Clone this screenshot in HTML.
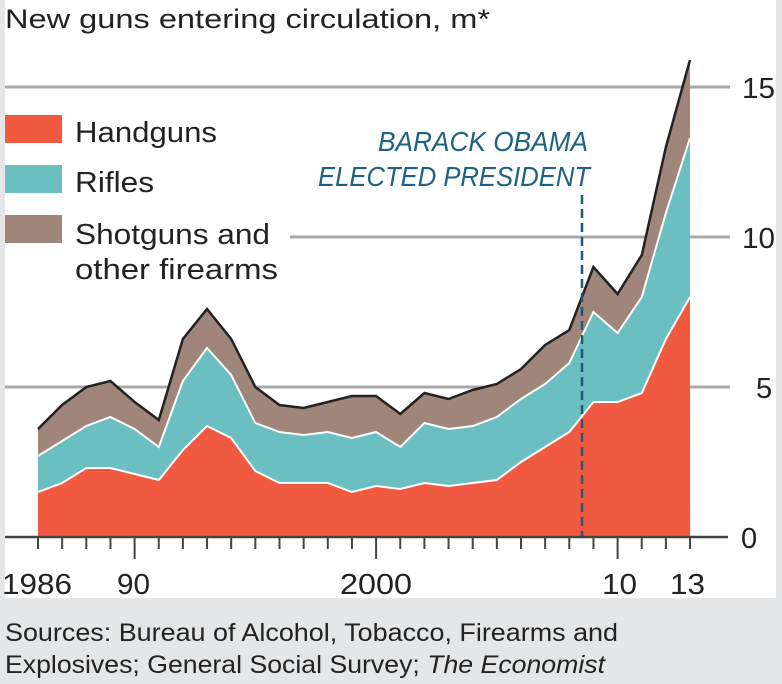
<!DOCTYPE html><html><head><meta charset="utf-8"><style>
body{margin:0;width:782px;height:684px;background:#e4e6e7;overflow:hidden}
svg{display:block}
text{font-family:"Liberation Sans",sans-serif;fill:#222}
</style></head><body>
<svg id="s" width="782" height="684" xmlns="http://www.w3.org/2000/svg">
<rect x="5" y="0" width="771" height="598" fill="#fff"/>
<text x="5" y="28" font-size="27" textLength="485" lengthAdjust="spacingAndGlyphs">New guns entering circulation, m*</text>
<g stroke="#a8a8a8" stroke-width="3">
<line x1="5" y1="87" x2="730" y2="87"/><line x1="290" y1="237" x2="730" y2="237"/><line x1="5" y1="387" x2="730" y2="387"/>
</g>
<g font-size="29"><text x="742" y="98" textLength="33" lengthAdjust="spacingAndGlyphs">15</text><text x="742" y="248" textLength="33" lengthAdjust="spacingAndGlyphs">10</text><text x="756" y="398">5</text><text x="741" y="548">0</text></g>
<g id="areas"></g>
<line x1="582" y1="195" x2="582" y2="537" stroke="#1d5a78" stroke-width="2.5" stroke-dasharray="9,5"/>
<g font-size="28" font-style="italic"><text x="378" y="151" style="fill:#1d6280" textLength="210" lengthAdjust="spacingAndGlyphs">BARACK OBAMA</text><text x="318" y="186" style="fill:#1d6280" textLength="272" lengthAdjust="spacingAndGlyphs">ELECTED PRESIDENT</text></g>
<line x1="5" y1="537" x2="728" y2="537" stroke="#444" stroke-width="2.5"/>
<g id="ticks" stroke="#444" stroke-width="2"></g>
<g font-size="29"><text x="2" y="594" textLength="70" lengthAdjust="spacingAndGlyphs">1986</text><text x="117" y="594" textLength="33" lengthAdjust="spacingAndGlyphs">90</text><text x="340" y="594" textLength="72" lengthAdjust="spacingAndGlyphs">2000</text><text x="602" y="594" textLength="35" lengthAdjust="spacingAndGlyphs">10</text><text x="670" y="594" textLength="35" lengthAdjust="spacingAndGlyphs">13</text></g>
<rect x="5" y="115" width="57" height="28" fill="#f05a40"/><rect x="5" y="165" width="57" height="28" fill="#6bbfc1"/><rect x="5" y="215" width="57" height="28" fill="#a0857a"/>
<g font-size="29"><text x="75" y="142" textLength="142" lengthAdjust="spacingAndGlyphs">Handguns</text><text x="75" y="192" textLength="79" lengthAdjust="spacingAndGlyphs">Rifles</text><text x="75" y="244" textLength="195" lengthAdjust="spacingAndGlyphs">Shotguns and</text><text x="75" y="279" textLength="203" lengthAdjust="spacingAndGlyphs">other firearms</text></g>
<g font-size="25"><text x="5" y="641" textLength="613" lengthAdjust="spacingAndGlyphs">Sources: Bureau of Alcohol, Tobacco, Firearms and</text><text x="5" y="673" textLength="600" lengthAdjust="spacingAndGlyphs">Explosives;  General Social Survey; <tspan font-style="italic">The Economist</tspan></text></g>
</svg>
<script>
var h=[1.5,1.8,2.3,2.3,2.1,1.9,2.9,3.7,3.3,2.2,1.8,1.8,1.8,1.5,1.7,1.6,1.8,1.7,1.8,1.9,2.5,3.0,3.5,4.5,4.5,4.8,6.6,8.0];
var r=[2.7,3.2,3.7,4.0,3.6,3.0,5.2,6.3,5.4,3.8,3.5,3.4,3.5,3.3,3.5,3.0,3.8,3.6,3.7,4.0,4.6,5.1,5.8,7.5,6.8,8.0,10.8,13.3];
var t=[3.6,4.4,5.0,5.2,4.5,3.9,6.6,7.6,6.6,5.0,4.4,4.3,4.5,4.7,4.7,4.1,4.8,4.6,4.9,5.1,5.6,6.4,6.9,9.0,8.1,9.4,13.0,15.9];
function X(i){return 38+i*24.15}function Y(v){return 537-30*v}
function line(a){return a.map(function(v,i){return X(i).toFixed(1)+","+Y(v).toFixed(1)}).join(" L")}
function area(a){return "M"+X(0)+",537 L"+line(a)+" L"+X(27)+",537Z"}
var g=document.getElementById("areas"),ns="http://www.w3.org/2000/svg";
function p(d,f,s,w){var e=document.createElementNS(ns,"path");e.setAttribute("d",d);e.setAttribute("fill",f);if(s){e.setAttribute("stroke",s);e.setAttribute("stroke-width",w)}g.appendChild(e)}
p(area(t),"#a0857a");p(area(r),"#6bbfc1");p(area(h),"#f05a40");
p("M"+line(r),"none","#fff",2);p("M"+line(h),"none","#fff",2);p("M"+line(t),"none","#222",2.5);
var tk=document.getElementById("ticks");
for(var i=0;i<28;i++){var yr=1986+i,L=(yr==1990||yr==2000||yr==2010)?22:12;var e=document.createElementNS(ns,"line");e.setAttribute("x1",X(i));e.setAttribute("x2",X(i));e.setAttribute("y1",537);e.setAttribute("y2",537+L);tk.appendChild(e)}
</script>
</body></html>
